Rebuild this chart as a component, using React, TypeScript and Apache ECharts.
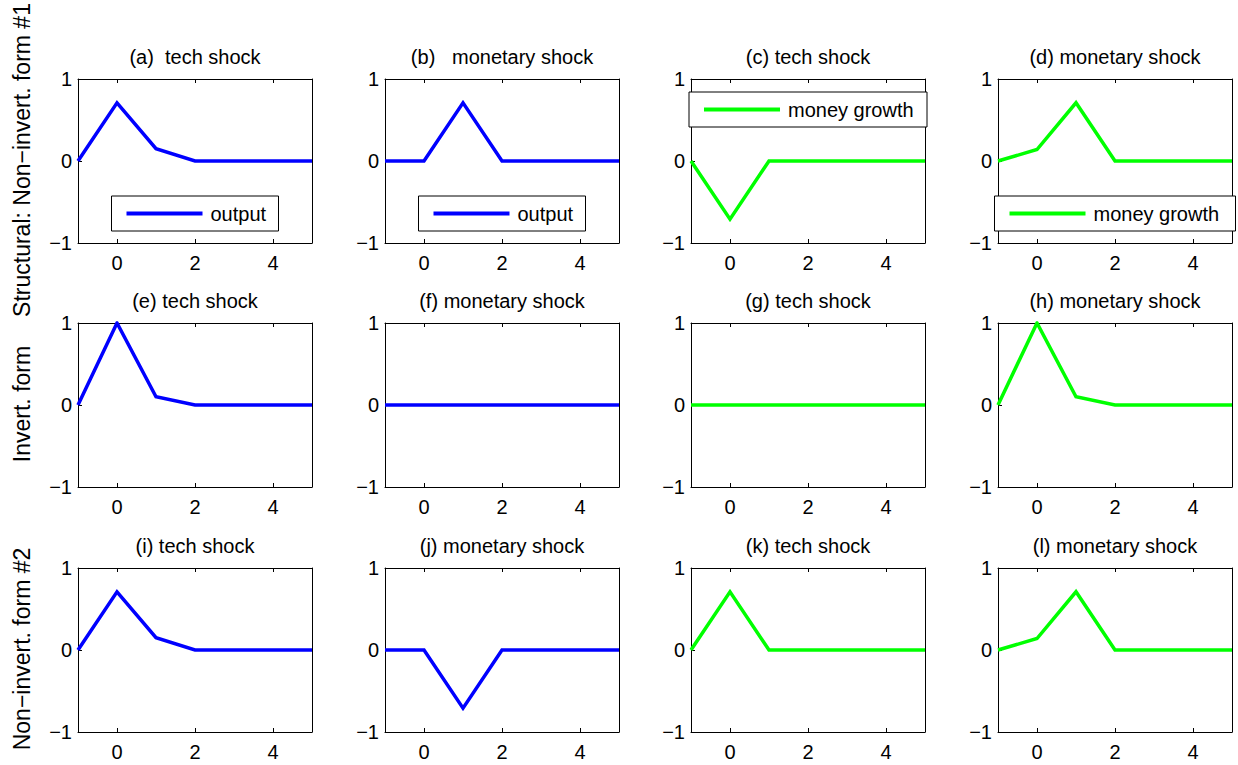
import React, { useEffect, useRef } from 'react';
import * as echarts from 'echarts';

// ---- data ----
const X = [-1, 0, 1, 2, 3, 4, 5];
const X_TICKS = [0, 2, 4];
const Y_MIN = -1;
const Y_MAX = 1;

const panelA = [0, 0.71, 0.15, 0, 0, 0, 0];
const panelB = [0, 0, 0.71, 0, 0, 0, 0];
const panelC = [0, -0.71, 0, 0, 0, 0, 0];
const panelD = [0, 0.14, 0.71, 0, 0, 0, 0];
const panelE = [0, 1, 0.1, 0, 0, 0, 0];
const panelF = [0, 0, 0, 0, 0, 0, 0];
const panelG = [0, 0, 0, 0, 0, 0, 0];
const panelH = [0, 1, 0.1, 0, 0, 0, 0];
const panelI = [0, 0.71, 0.15, 0, 0, 0, 0];
const panelJ = [0, 0, -0.71, 0, 0, 0, 0];
const panelK = [0, 0.71, 0, 0, 0, 0, 0];
const panelL = [0, 0.14, 0.71, 0, 0, 0, 0];

const PANEL_VALUES = [
  panelA, panelB, panelC, panelD,
  panelE, panelF, panelG, panelH,
  panelI, panelJ, panelK, panelL,
];

const PANEL_TITLES = [
  '(a)  tech shock', '(b)   monetary shock', '(c) tech shock', '(d) monetary shock',
  '(e) tech shock', '(f) monetary shock', '(g) tech shock', '(h) monetary shock',
  '(i) tech shock', '(j) monetary shock', '(k) tech shock', '(l) monetary shock',
];

const COLUMN_SERIES = ['output', 'output', 'money growth', 'money growth'];

const ROW_LABELS = [
  'Structural: Non\u2212invert. form #1',
  'Invert. form',
  'Non\u2212invert. form #2',
];

// legends: panel index, name, location
const LEGENDS = [
  { panel: 0, name: 'output', loc: 'bottom', width: 167 },
  { panel: 1, name: 'output', loc: 'bottom', width: 167 },
  { panel: 2, name: 'money growth', loc: 'top', width: 238 },
  { panel: 3, name: 'money growth', loc: 'bottom', width: 241 },
];

// ---- layout / style ----
const COL_LEFT = [78, 385, 691, 998];
const ROW_TOP = [79, 323, 568];
const W = 234;
const H = 164;
const FONT = '"Liberation Sans", Arial, Helvetica, sans-serif';
const COLORS: Record<string, string> = { output: '#0000ff', 'money growth': '#00ff00' };
const FS = 20;

function measure(text: string, size: number) {
  const c = document.createElement('canvas').getContext('2d');
  if (!c) return text.length * size * 0.5;
  c.font = `${size}px "Liberation Sans", Arial, sans-serif`;
  return c.measureText(text).width;
}

const fmtY = (v: number) => (v < 0 ? '\u2212' + String(-v) : String(v));

export default function App() {
  const ref = useRef<HTMLDivElement>(null);
  useEffect(() => {
    if (!ref.current) return;
    const chart = echarts.init(ref.current, null, { renderer: 'svg' });

    const grids: any[] = [];
    const xAxes: any[] = [];
    const yAxes: any[] = [];
    const series: any[] = [];
    const graphics: any[] = [];

    PANEL_VALUES.forEach((vals, i) => {
      const r = Math.floor(i / 4);
      const c = i % 4;
      const left = COL_LEFT[c];
      const top = ROW_TOP[r];
      grids.push({ left, top, width: W, height: H, containLabel: false });
      const axLine = { show: true, onZero: false, lineStyle: { color: '#000', width: 1 } };
      xAxes.push({
        gridIndex: i, type: 'value', position: 'bottom', min: -1, max: 5,
        axisLine: axLine,
        axisTick: { show: true, inside: true, length: 4, customValues: X_TICKS, lineStyle: { color: '#000' } },
        axisLabel: { show: true, customValues: X_TICKS, margin: 10, color: '#000', fontSize: FS, fontFamily: FONT },
        splitLine: { show: false },
      });
      xAxes.push({
        gridIndex: i, type: 'value', position: 'top', min: -1, max: 5,
        axisLine: axLine,
        axisTick: { show: true, inside: true, length: 4, customValues: X_TICKS, lineStyle: { color: '#000' } },
        axisLabel: { show: false },
        splitLine: { show: false },
      });
      yAxes.push({
        gridIndex: i, type: 'value', position: 'left', min: Y_MIN, max: Y_MAX, interval: 1,
        axisLine: axLine,
        axisTick: { show: true, inside: true, length: 4, lineStyle: { color: '#000' } },
        axisLabel: { show: true, margin: 6, color: '#000', fontSize: FS, fontFamily: FONT, formatter: fmtY },
        splitLine: { show: false },
      });
      yAxes.push({
        gridIndex: i, type: 'value', position: 'right', min: Y_MIN, max: Y_MAX, interval: 1,
        axisLine: axLine,
        axisTick: { show: true, inside: true, length: 4, lineStyle: { color: '#000' } },
        axisLabel: { show: false },
        splitLine: { show: false },
      });
      const name = COLUMN_SERIES[c];
      series.push({
        type: 'line', name, xAxisIndex: 2 * i, yAxisIndex: 2 * i,
        data: X.map((x, j) => [x, vals[j]]),
        symbol: 'none', showSymbol: false, silent: true,
        itemStyle: { color: COLORS[name] },
        lineStyle: { color: COLORS[name], width: 3.5, join: 'miter' },
      });
      graphics.push({
        type: 'text', x: left + W / 2, y: top - 22, silent: true,
        style: {
          text: PANEL_TITLES[i], fontSize: FS, fontFamily: FONT, fill: '#000',
          align: 'center', verticalAlign: 'middle', textAlign: 'center', textVerticalAlign: 'middle',
        },
      });
    });

    ROW_LABELS.forEach((t, r) => {
      graphics.push({
        type: 'text', x: 22, y: ROW_TOP[r] + H / 2 - 1, rotation: Math.PI / 2, silent: true,
        style: {
          text: t, fontSize: 23, fontFamily: FONT, fill: '#000',
          align: 'center', verticalAlign: 'middle', textAlign: 'center', textVerticalAlign: 'middle',
        },
      });
    });

    const legends = LEGENDS.map((lg) => {
      const r = Math.floor(lg.panel / 4);
      const c = lg.panel % 4;
      const cx = COL_LEFT[c] + W / 2;
      const tw = measure(lg.name, FS);
      const pl = 15;
      const iconW = 76;
      const gap = 8;
      const pr = Math.max(4, lg.width - pl - iconW - gap - tw);
      const boxH = 35;
      const top = lg.loc === 'top' ? ROW_TOP[r] + 13 : ROW_TOP[r] + H - 12 - boxH;
      return {
        data: [{ name: lg.name, icon: 'rect' }],
        left: cx - lg.width / 2, top,
        orient: 'horizontal',
        itemWidth: iconW, itemHeight: 4,
        padding: [7.5, pr, 7.5, pl],
        backgroundColor: '#fff', borderColor: '#000', borderWidth: 1, borderRadius: 0,
        selectedMode: false,
        textStyle: { color: '#000', fontSize: FS, fontFamily: FONT, lineHeight: 20, padding: [0, 0, 0, gap - 5] },
      };
    });

    chart.setOption({
      animation: false,
      backgroundColor: '#fff',
      grid: grids,
      xAxis: xAxes,
      yAxis: yAxes,
      series,
      legend: legends,
      graphic: graphics,
    });
    return () => chart.dispose();
  }, []);
  return <div ref={ref} style={{ position: 'fixed', left: 0, top: 0, width: 1238, height: 765 }} />;
}
